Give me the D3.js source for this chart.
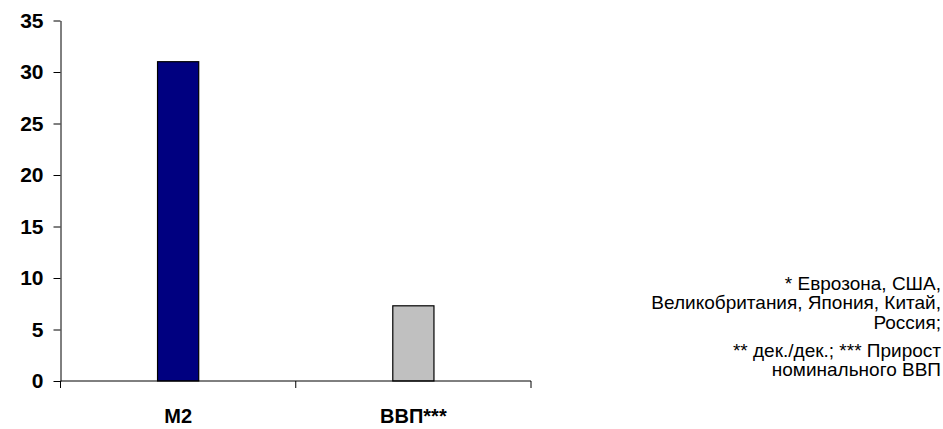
<!DOCTYPE html>
<html>
<head>
<meta charset="utf-8">
<script src="https://cdn.jsdelivr.net/npm/d3@7/dist/d3.min.js"></script>
<style>
body { margin: 0; background: #fff; }
svg { display: block; font-family: "Liberation Sans", Arial, sans-serif; }
</style>
</head>
<body>
<svg id="chart" width="943" height="429"></svg>
<script>
var categories = ["M2", "ВВП***"];
var values = [31.0, 7.3];
var barColors = ["#000080", "#c0c0c0"];
var yTicks = [0, 5, 10, 15, 20, 25, 30, 35];
var noteLines1 = ["* Еврозона, США,", "Великобритания, Япония, Китай,", "Россия;"];
var noteLines2 = ["** дек./дек.; *** Прирост", "номинального ВВП"];

var svg = d3.select("#chart");

var plotLeft = 60.5, plotRight = 531, plotTop = 20.5, plotBottom = 381;

var x = d3.scaleBand().domain(categories).range([plotLeft, plotRight]).padding(0);
var y = d3.scaleLinear().domain([0, 35]).range([plotBottom, plotTop]);

var barW = x.bandwidth() * 0.175;

// bars
svg.selectAll("rect.bar").data(values).enter().append("rect") //
.attr("class", "bar") //
.attr("x", function(d, i) {
	return (x(categories[i]) + x.bandwidth() / 2 - barW / 2);
}) //
.attr("y", function(d) {
	return (y(d));
}) //
.attr("width", barW) //
.attr("height", function(d) {
	return (y(0) - y(d));
}) //
.attr("fill", function(d, i) {
	return (barColors[i]);
}) //
.attr("stroke", "#000") //
.attr("stroke-width", 1.2);

// y axis
var yAxis = svg.append("g").attr("transform", "translate(" + plotLeft + ",0)") //
.call(d3.axisLeft(y).tickValues(yTicks).tickSize(7).tickPadding(10).tickSizeOuter(0));
yAxis.selectAll("text") //
.attr("font-size", "21px") //
.attr("font-weight", "bold") //
.attr("fill", "#000") //
.attr("font-family", "Liberation Sans, Arial, sans-serif");
yAxis.selectAll("line").attr("stroke", "#000");
yAxis.select(".domain").attr("stroke", "#000");

// x axis: ticks at band boundaries
var xBounds = [plotLeft, (plotLeft + plotRight) / 2, plotRight];
svg.append("line") //
.attr("x1", plotLeft) //
.attr("x2", plotRight) //
.attr("y1", plotBottom) //
.attr("y2", plotBottom) //
.attr("stroke", "#000");
svg.selectAll("line.xtick").data(xBounds).enter().append("line") //
.attr("class", "xtick") //
.attr("x1", function(d) { return (d); }) //
.attr("x2", function(d) { return (d); }) //
.attr("y1", plotBottom) //
.attr("y2", plotBottom + 7) //
.attr("stroke", "#000");

svg.selectAll("text.xlab").data(categories).enter().append("text") //
.attr("class", "xlab") //
.attr("x", function(d) { return (x(d) + x.bandwidth() / 2); }) //
.attr("y", 423) //
.attr("text-anchor", "middle") //
.attr("font-size", "20px") //
.attr("font-weight", "bold") //
.text(function(d) { return (d); });

// notes
var noteX = 941;
svg.selectAll("text.note1").data(noteLines1).enter().append("text") //
.attr("class", "note1") //
.attr("x", noteX) //
.attr("y", function(d, i) { return (289.5 + i * 19.5); }) //
.attr("text-anchor", "end") //
.attr("font-size", "19px") //
.text(function(d) { return (d); });

svg.selectAll("text.note2").data(noteLines2).enter().append("text") //
.attr("class", "note2") //
.attr("x", noteX) //
.attr("y", function(d, i) { return (356.5 + i * 19.5); }) //
.attr("text-anchor", "end") //
.attr("font-size", "19px") //
.text(function(d) { return (d); });
</script>
</body>
</html>
